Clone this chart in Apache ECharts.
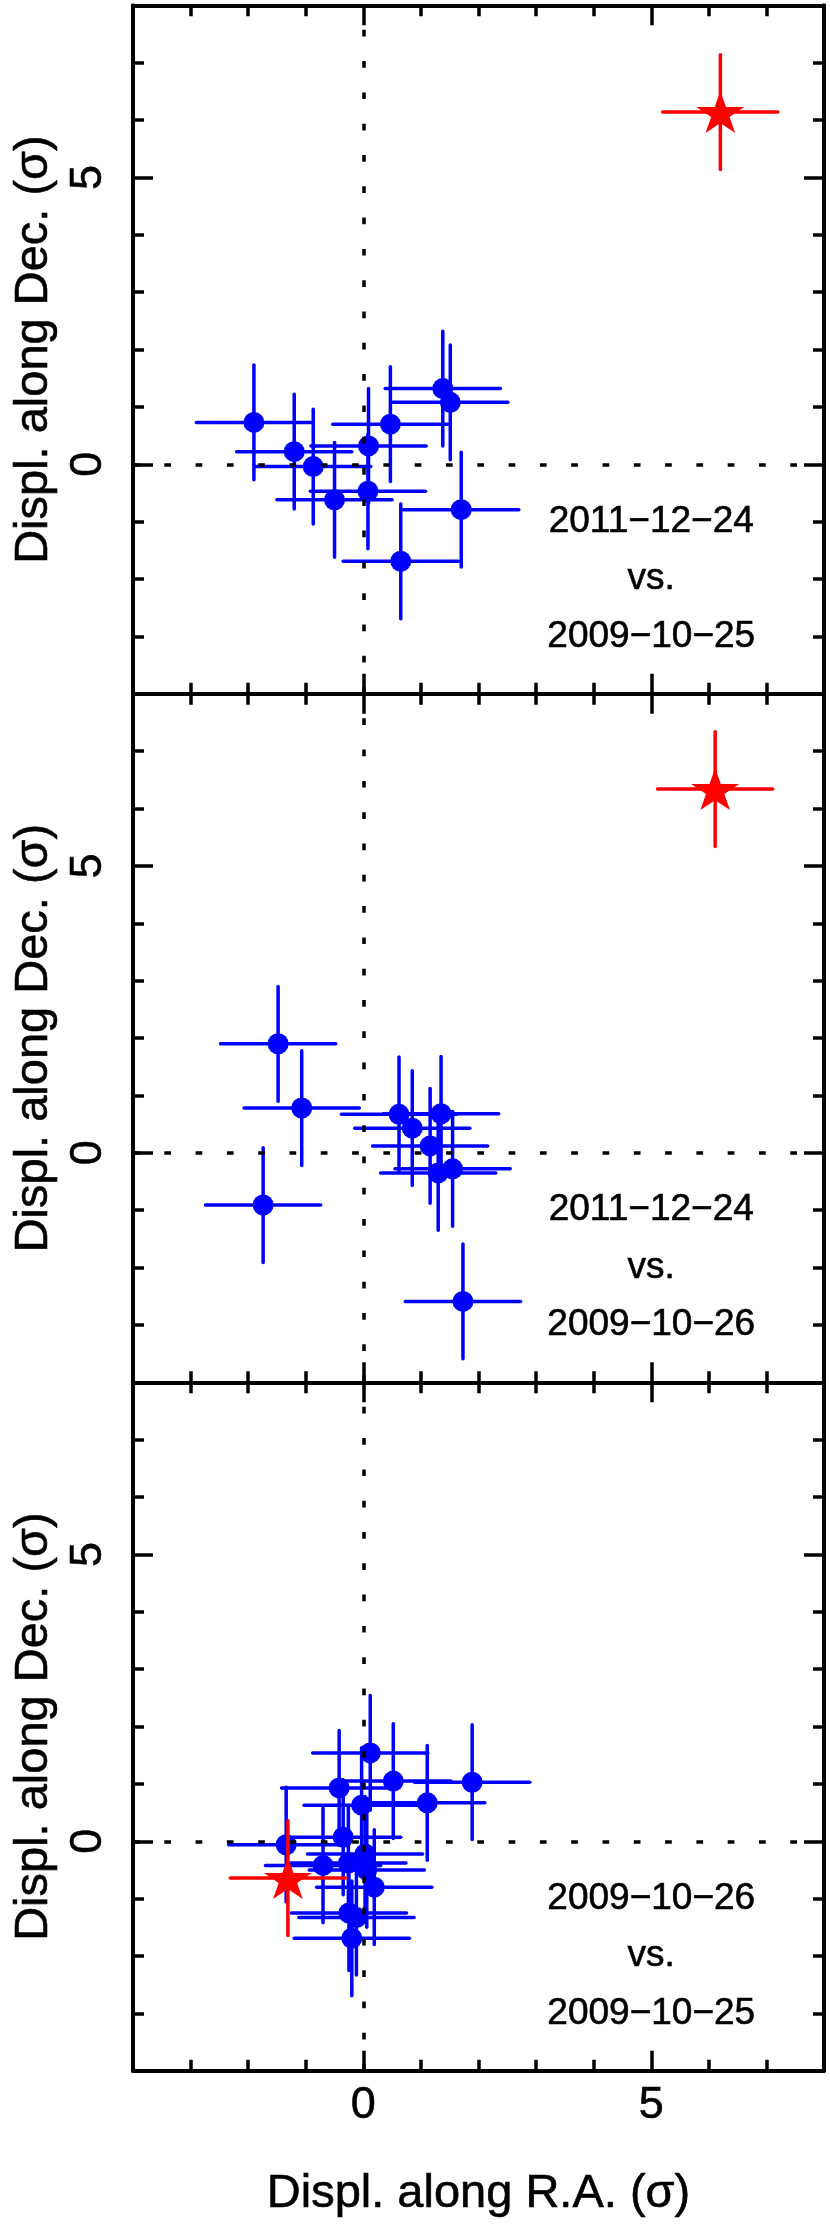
<!DOCTYPE html>
<html>
<head>
<meta charset="utf-8">
<script src="https://cdn.jsdelivr.net/npm/echarts@6/dist/echarts.min.js"></script>
<style>
  html, body { margin: 0; padding: 0; background: #fff; }
  #chart { width: 830px; height: 2231px; }
</style>
</head>
<body>
<div id="chart"></div>
<script>
// displacements in units of sigma, one pair of arrays per panel
const ra1 = [-1.90, -1.20, -0.87, -0.50, 0.09, 0.08, 0.47, 1.38, 1.51, 1.70, 0.65];
const dec1 = [0.73, 0.22, -0.04, -0.62, 0.32, -0.47, 0.70, 1.32, 1.08, -0.79, -1.69];
const ra2 = [-1.48, -1.07, -1.74, 0.62, 0.85, 1.35, 1.16, 1.30, 1.55, 1.73];
const dec2 = [1.90, 0.78, -0.91, 0.67, 0.43, 0.68, 0.12, -0.35, -0.28, -2.59];
const ra3 = [0.12, 0.52, 1.11, -0.42, -0.03, -1.34, -0.35, -0.70, -0.26, 0.03, 0.06, 0.19, -0.25, -0.12, -0.20, 1.89];
const dec3 = [1.54, 1.05, 0.67, 0.93, 0.63, -0.06, 0.07, -0.42, -0.38, -0.22, -0.50, -0.80, -1.25, -1.33, -1.69, 1.03];

// the target (red star), one per panel
const starRa = [6.20, 6.11, -1.31];
const starDec = [6.14, 6.34, -0.64];

// 1 sigma error bars
const ERR = 1;

const epochA = ['2011−12−24', '2011−12−24', '2009−10−26'];
const epochB = ['2009−10−25', '2009−10−26', '2009−10−25'];

const axisMin = -4;
const axisMax = 8;
const labelTicks = [0, 5];

const raList = [ra1, ra2, ra3];
const decList = [dec1, dec2, dec3];

const FONT = "'Liberation Sans', Arial, sans-serif";
const BLUE = '#0000ff';
const RED = '#ff0000';
const STAR = 'path://M50 0 L61.23 34.55 L97.55 34.55 L68.16 55.9 L79.39 90.45 L50 69.1 L20.61 90.45 L31.84 55.9 L2.45 34.55 L38.77 34.55 Z';

const PANEL_TOP = 5.3;
const PANEL_H = 688.5;

// slightly heavier text, like the postscript original
const textHeavy = { color: '#000', fontFamily: FONT, textBorderColor: '#000', textBorderWidth: 0.6 };

const chart = echarts.init(document.getElementById('chart'), null, { renderer: 'canvas' });

// error bars (+ optional filled circle) drawn point by point
const errorBars = (color, radius) => (params, api) => {
  const x = api.value(0);
  const y = api.value(1);
  const c = api.coord([x, y]);
  const l = api.coord([x - ERR, y]);
  const r = api.coord([x + ERR, y]);
  const b = api.coord([x, y - ERR]);
  const t = api.coord([x, y + ERR]);
  const style = { stroke: color, lineWidth: 3.5, lineCap: 'round' };
  const children = [
    { type: 'line', shape: { x1: l[0], y1: l[1], x2: r[0], y2: r[1] }, style },
    { type: 'line', shape: { x1: b[0], y1: b[1], x2: t[0], y2: t[1] }, style }
  ];
  if (radius > 0) {
    children.push({ type: 'circle', shape: { cx: c[0], cy: c[1], r: radius }, style: { fill: color } });
  }
  return { type: 'group', children };
};

const grids = [];
const xAxes = [];
const yAxes = [];
const series = [];

const axisLineStyle = { color: '#000', width: 4 };
const tickStyle = { color: '#000', width: 3.5 };

const makeX = (gi, position, major, labels) => ({
  type: 'value',
  gridIndex: gi,
  position,
  min: axisMin,
  max: axisMax,
  interval: 1,
  axisLine: { show: !major, onZero: false, lineStyle: axisLineStyle },
  axisTick: major
    ? { show: true, inside: true, length: 20, lineStyle: tickStyle, customValues: labelTicks }
    : { show: true, inside: true, length: 11, lineStyle: tickStyle },
  axisLabel: labels
    ? Object.assign({ show: true, margin: 12, fontSize: 45, customValues: labelTicks }, textHeavy)
    : { show: false },
  splitLine: { show: false },
  name: labels ? 'Displ. along R.A. (σ)' : '',
  nameLocation: 'middle',
  nameGap: 100,
  nameTextStyle: Object.assign({ fontSize: 47 }, textHeavy)
});

const makeY = (gi, position, major, labels) => ({
  type: 'value',
  gridIndex: gi,
  position,
  min: axisMin,
  max: axisMax,
  interval: 1,
  axisLine: { show: !major, onZero: false, lineStyle: axisLineStyle },
  axisTick: major
    ? { show: true, inside: true, length: 20, lineStyle: tickStyle, customValues: labelTicks }
    : { show: true, inside: true, length: 11, lineStyle: tickStyle },
  axisLabel: labels
    ? Object.assign({ show: true, rotate: 90, margin: 22, fontSize: 45, customValues: labelTicks }, textHeavy)
    : { show: false },
  splitLine: { show: false },
  name: labels ? 'Displ. along Dec. (σ)' : '',
  nameLocation: 'middle',
  nameGap: 70,
  nameTextStyle: Object.assign({ fontSize: 47 }, textHeavy)
});

for (let gi = 0; gi < 3; gi++) {
  grids.push({ left: 133, width: 691, top: PANEL_TOP + gi * PANEL_H, height: PANEL_H });
  // main axes first: xAxis index gi / yAxis index gi belong to grid gi
  xAxes[gi] = makeX(gi, 'bottom', false, gi === 2);
  yAxes[gi] = makeY(gi, 'left', false, true);
}
for (let gi = 0; gi < 3; gi++) {
  xAxes.push(makeX(gi, 'bottom', true, false));
  xAxes.push(makeX(gi, 'top', false, false));
  xAxes.push(makeX(gi, 'top', true, false));
  yAxes.push(makeY(gi, 'left', true, false));
  yAxes.push(makeY(gi, 'right', false, false));
  yAxes.push(makeY(gi, 'right', true, false));
}

for (let gi = 0; gi < 3; gi++) {
  const ra = raList[gi];
  const dec = decList[gi];
  series.push({
    type: 'custom',
    xAxisIndex: gi,
    yAxisIndex: gi,
    z: 3,
    renderItem: errorBars(BLUE, 10.5),
    data: ra.map((v, i) => [v, dec[i]])
  });
  series.push({
    type: 'custom',
    xAxisIndex: gi,
    yAxisIndex: gi,
    z: 4,
    renderItem: errorBars(RED, 0),
    data: [[starRa[gi], starDec[gi]]]
  });
  series.push({
    type: 'scatter',
    xAxisIndex: gi,
    yAxisIndex: gi,
    z: 5,
    symbol: STAR,
    symbolSize: [48, 42],
    itemStyle: { color: RED, opacity: 1 },
    data: [[starRa[gi], starDec[gi]]]
  });
  // epoch text + dotted zero lines
  series.push({
    type: 'scatter',
    xAxisIndex: gi,
    yAxisIndex: gi,
    z: 6,
    symbolSize: 1,
    itemStyle: { color: 'transparent' },
    label: Object.assign({
      show: true,
      position: 'inside',
      fontSize: 37,
      opacity: 1,
      formatter: p => p.data[2]
    }, textHeavy),
    data: [[5, -1, epochA[gi]], [5, -2, 'vs.'], [5, -3, epochB[gi]]],
    markLine: {
      silent: true,
      symbol: 'none',
      label: { show: false },
      lineStyle: { color: '#000', width: 3.5, type: [6.7, 24.6], cap: 'butt' },
      data: [{ xAxis: 0 }, { yAxis: 0 }]
    }
  });
}

chart.setOption({
  animation: false,
  grid: grids,
  xAxis: xAxes,
  yAxis: yAxes,
  series
});
</script>
</body>
</html>
